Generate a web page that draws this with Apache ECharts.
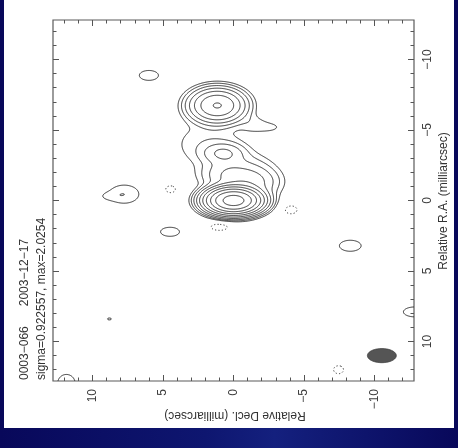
<!DOCTYPE html>
<html>
<head>
<meta charset="utf-8">
<script src="https://cdn.jsdelivr.net/npm/echarts@6/dist/echarts.min.js"></script>
<style>
  html, body { margin: 0; padding: 0; width: 458px; height: 448px; overflow: hidden;
    background: linear-gradient(90deg, #08085a 0%, #0e1670 45%, #14207e 60%, #08085a 100%); }
  #page { position: absolute; left: 4px; top: 0; width: 450px; height: 428px; background: #ffffff; }
  #chart { position: absolute; left: 0; top: 0; width: 458px; height: 448px; }
</style>
</head>
<body>
<div id="page"></div>
<div id="chart"></div>
<script>
// 0003-066, VLBI map of 2003-12-17
const sourceName = '0003\u2212066';
const epoch = '2003\u221212\u221217';
const sigma = 0.922557;     // noise, mJy/beam
const peakMax = 2.0254;     // peak, Jy/beam

// Contour levels in mJy/beam (3 sigma, doubling)
const positiveLevels = [2.77, 5.54, 11.07, 22.14, 44.28, 88.57, 177.1, 354.3, 708.6, 1417.2];
const negativeLevels = [-2.77];

// Brightness components: offset in Decl. and R.A. (mas), peak (mJy/beam), FWHM along Decl. and R.A. (mas)
const compDecl     = [0.0,   -1.2,  0.5,  0.72,  1.8,  -0.8,  1.15,  -2.6,  -1.3, 6.0,   7.75,  8.9,  4.5,  -8.28, 8.8,  11.85, -12.85, 4.46,  -4.08, 1.0,  -7.45];
const compRA       = [0.0,   -1.3, -1.8, -3.35, -4.0,  -2.4,  -6.74, -5.2,  -5.5, -8.87, -0.45, -0.3, 2.22, 3.21,  8.4,  12.95, 7.9,    -0.80, 0.66,  1.87, 12.0];
const compPeak     = [2025,  30,    17,   22,    5,    6,     185,   3.0,   3.0,  3.6,   5.42,  2.0,  3.6,  3.6,   2.85, 3.6,   3.6,    -3.6,  -3.6,  -3.6, -3.6];
const compFwhmDecl = [2.05,  2.6,   2.5,  2.0,   4.0,  3.0,   2.25,  2.2,   1.5,  2.2,   2.1,   1.2,  2.18, 2.5,   1.4,  2.0,   2.6,    1.14,  1.38,  1.95, 1.14];
const compFwhmRA   = [1.0,   1.5,   1.5,  1.0,   2.6,  1.6,   1.4,   0.9,   1.0,  1.14,  1.3,   0.5,  1.04, 1.27,  0.7,  2.0,   1.14,   0.8,   0.92,  0.81, 0.92];

// Restoring beam
const beamDecl = -10.52, beamRA = 11.0, beamFwhmDecl = 2.05, beamFwhmRA = 1.0;

// Axis ticks (mas)
const majorTicks = [-10, -5, 0, 5, 10];
const minorTicks = [-12, -11, -10, -9, -8, -7, -6, -5, -4, -3, -2, -1, 0, 1, 2, 3, 4, 5, 6, 7, 8, 9, 10, 11, 12];
const axisMin = -12.8, axisMax = 12.8;

// ---- brightness grid ----
const N = 513;
const STEP = (axisMax - axisMin) / (N - 1);
const field = new Float64Array(N * N);
for (let c = 0; c < compDecl.length; c++) {
  const d0 = compDecl[c], r0 = compRA[c], p = compPeak[c];
  const kd = 4 * Math.LN2 / (compFwhmDecl[c] * compFwhmDecl[c]);
  const kr = 4 * Math.LN2 / (compFwhmRA[c] * compFwhmRA[c]);
  const lim = Math.log(Math.abs(p) / 0.005);
  const hd = Math.sqrt(lim / kd), hr = Math.sqrt(lim / kr);
  const i0 = Math.max(0, Math.floor((d0 - hd - axisMin) / STEP));
  const i1 = Math.min(N - 1, Math.ceil((d0 + hd - axisMin) / STEP));
  const j0 = Math.max(0, Math.floor((r0 - hr - axisMin) / STEP));
  const j1 = Math.min(N - 1, Math.ceil((r0 + hr - axisMin) / STEP));
  for (let j = j0; j <= j1; j++) {
    const dr = axisMin + j * STEP - r0;
    const er = kr * dr * dr;
    for (let i = i0; i <= i1; i++) {
      const dd = axisMin + i * STEP - d0;
      field[j * N + i] += p * Math.exp(-kd * dd * dd - er);
    }
  }
}

// ---- marching squares, joined into polylines ----
function edgePoint(id, level) {
  const k = id >> 1, i = k % N, j = (k - i) / N;
  const a = field[k];
  if ((id & 1) === 0) {
    const b = field[k + 1], t = (level - a) / (b - a);
    return [axisMin + (i + t) * STEP, axisMin + j * STEP];
  }
  const b = field[k + N], t = (level - a) / (b - a);
  return [axisMin + i * STEP, axisMin + (j + t) * STEP];
}

function traceLevel(level) {
  const segA = [], segB = [];
  for (let j = 0; j < N - 1; j++) {
    for (let i = 0; i < N - 1; i++) {
      const v0 = field[j * N + i], v1 = field[j * N + i + 1];
      const v2 = field[(j + 1) * N + i + 1], v3 = field[(j + 1) * N + i];
      let idx = 0;
      if (v0 > level) idx |= 1;
      if (v1 > level) idx |= 2;
      if (v2 > level) idx |= 4;
      if (v3 > level) idx |= 8;
      if (idx === 0 || idx === 15) continue;
      const e = [(j * N + i) * 2, (j * N + i + 1) * 2 + 1, ((j + 1) * N + i) * 2, (j * N + i) * 2 + 1];
      const add = (a, b) => { segA.push(e[a]); segB.push(e[b]); };
      const centre = (v0 + v1 + v2 + v3) / 4 > level;
      switch (idx) {
        case 1: add(3, 0); break;
        case 2: add(0, 1); break;
        case 3: add(3, 1); break;
        case 4: add(1, 2); break;
        case 5: if (centre) { add(0, 1); add(2, 3); } else { add(3, 0); add(1, 2); } break;
        case 6: add(0, 2); break;
        case 7: add(3, 2); break;
        case 8: add(2, 3); break;
        case 9: add(0, 2); break;
        case 10: if (centre) { add(3, 0); add(1, 2); } else { add(0, 1); add(2, 3); } break;
        case 11: add(1, 2); break;
        case 12: add(1, 3); break;
        case 13: add(0, 1); break;
        case 14: add(0, 3); break;
      }
    }
  }
  const adj = new Map();
  const link = (edge, s) => { const l = adj.get(edge); if (l) l.push(s); else adj.set(edge, [s]); };
  for (let s = 0; s < segA.length; s++) { link(segA[s], s); link(segB[s], s); }
  const used = new Uint8Array(segA.length);
  const walk = (start, cur, out) => {
    for (;;) {
      const list = adj.get(cur);
      let nxt = -1;
      for (const m of list) if (!used[m]) { nxt = m; break; }
      if (nxt < 0) return;
      used[nxt] = 1;
      cur = segA[nxt] === cur ? segB[nxt] : segA[nxt];
      out.push(cur);
      if (cur === start) return;
    }
  };
  const lines = [];
  for (let s = 0; s < segA.length; s++) {
    if (used[s]) continue;
    used[s] = 1;
    const fwd = [segA[s], segB[s]];
    walk(segA[s], segB[s], fwd);
    const back = [];
    if (fwd[fwd.length - 1] !== fwd[0]) walk(segB[s], segA[s], back);
    const ids = back.reverse().concat(fwd);
    lines.push(ids.map(id => edgePoint(id, level)));
  }
  return lines;
}

const fmt = v => (v < 0 ? '\u2212' + (-v) : String(v));
const tickColor = '#555';
const labelFont = { fontFamily: 'Liberation Sans, Arial, sans-serif', fontSize: 12, color: '#3c3c3c' };

function makeAxis(position, major) {
  return {
    type: 'value', min: axisMin, max: axisMax, inverse: true, position: position,
    splitLine: { show: false }, axisLine: { show: false, onZero: false },
    axisTick: { show: true, inside: true, length: major ? 6 : 3.5, customValues: major ? majorTicks : minorTicks,
                lineStyle: { color: tickColor, width: 1 } },
    axisLabel: (major && (position === 'bottom' || position === 'right'))
      ? Object.assign({ show: true, customValues: majorTicks, rotate: 90, margin: 8, formatter: fmt }, labelFont)
      : { show: false }
  };
}

const series = [];
positiveLevels.forEach(level => {
  series.push({
    type: 'lines', coordinateSystem: 'cartesian2d', polyline: true, silent: true, animation: false,
    lineStyle: { color: '#2a2a2a', width: 0.95, opacity: 1 },
    data: traceLevel(level).map(c => ({ coords: c }))
  });
});
negativeLevels.forEach(level => {
  series.push({
    type: 'lines', coordinateSystem: 'cartesian2d', polyline: true, silent: true, animation: false,
    lineStyle: { color: '#2a2a2a', width: 0.95, opacity: 1, type: [1.2, 2.2] },
    data: traceLevel(level).map(c => ({ coords: c }))
  });
});
series.push({
  type: 'custom', coordinateSystem: 'cartesian2d', silent: true, animation: false,
  encode: { x: 0, y: 1 },
  data: [[beamDecl, beamRA, beamFwhmDecl, beamFwhmRA]],
  renderItem: (params, api) => {
    const d = api.value(0), r = api.value(1), a = api.value(2) / 2, b = api.value(3) / 2;
    const pts = [];
    for (let k = 0; k < 90; k++) {
      const t = k / 90 * 2 * Math.PI;
      pts.push(api.coord([d + a * Math.cos(t), r + b * Math.sin(t)]));
    }
    return { type: 'polygon', shape: { points: pts }, style: { fill: '#555555', stroke: '#3a3a3a', lineWidth: 0.8 } };
  }
});

const textStyle = (text, x, y, rot, align) => ({
  type: 'text', x: x, y: y, rotation: rot, silent: true,
  style: { text: text, fill: '#333', font: '12px "Liberation Sans", Arial, sans-serif',
           textAlign: align, textVerticalAlign: 'middle' }
});

const chart = echarts.init(document.getElementById('chart'), null, { renderer: 'canvas' });
chart.setOption({
  backgroundColor: 'transparent',
  animation: false,
  grid: { left: 53, top: 20, width: 361, height: 361, show: true, borderColor: '#5a5a5a', borderWidth: 1.2,
          backgroundColor: 'transparent' },
  xAxis: [makeAxis('bottom', true), makeAxis('bottom', false), makeAxis('top', true), makeAxis('top', false)],
  yAxis: [makeAxis('right', true), makeAxis('right', false), makeAxis('left', true), makeAxis('left', false)],
  series: series,
  graphic: [
    textStyle(sourceName + '      ' + epoch, 25, 380, Math.PI / 2, 'left'),
    textStyle('sigma=' + sigma + ', max=' + peakMax, 42, 380, Math.PI / 2, 'left'),
    textStyle('Relative Decl. (milliarcsec)', 235, 415, Math.PI, 'center'),
    textStyle('Relative R.A. (milliarcsec)', 444, 201, Math.PI / 2, 'center')
  ]
});
</script>
</body>
</html>
